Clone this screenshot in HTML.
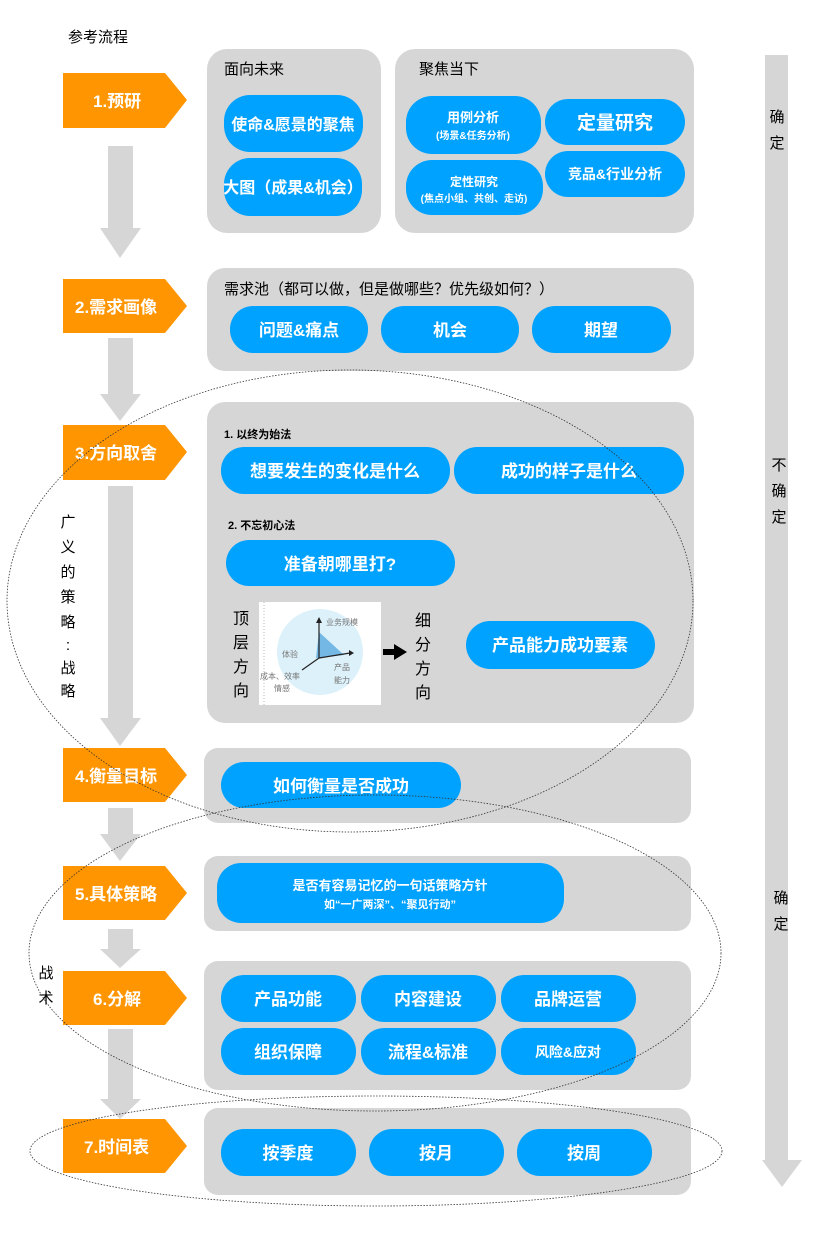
<!DOCTYPE html>
<html><head><meta charset="utf-8"><style>
body{margin:0;background:#fff}
svg text{font-family:"Liberation Sans","Noto Sans CJK SC",sans-serif}
.w{fill:#fff;text-anchor:middle;font-weight:bold}
.b{fill:#000}
.p{fill:#00A2FF}
.g{fill:#D6D6D6}
.o{fill:#FF9500}
</style></head><body>
<svg width="832" height="1236" viewBox="0 0 832 1236" xmlns="http://www.w3.org/2000/svg">
<text x="68" y="42" font-size="15" class="b">参考流程</text>
<!-- right arrow -->
<rect x="765" y="55" width="23" height="1107" class="g"/>
<polygon points="762,1160 802,1160 782,1187" class="g"/>
<g font-size="15" class="b" text-anchor="middle">
<text x="777" y="122">确</text><text x="777" y="148">定</text>
<text x="779" y="470">不</text><text x="779" y="496">确</text><text x="779" y="522">定</text>
<text x="781" y="903">确</text><text x="781" y="929">定</text>
</g>
<!-- down arrows -->
<g class="g">
<rect x="108" y="146" width="25" height="84"/><polygon points="100,228 141,228 120,258"/>
<rect x="108" y="338" width="25" height="58"/><polygon points="100,394 141,394 120,421"/>
<rect x="108" y="486" width="25" height="234"/><polygon points="100,718 141,718 120,746"/>
<rect x="108" y="808" width="25" height="28"/><polygon points="100,834 141,834 120,861"/>
<rect x="108" y="929" width="25" height="22"/><polygon points="100,949 141,949 120,968"/>
<rect x="108" y="1029" width="25" height="72"/><polygon points="100,1099 141,1099 120,1119"/>
</g>
<!-- orange steps -->
<g class="o">
<polygon points="63,73 165,73 187,100 165,128 63,128"/>
<polygon points="63,279 165,279 187,306 165,333 63,333"/>
<polygon points="63,425 165,425 187,452 165,480 63,480"/>
<polygon points="63,748 165,748 187,775 165,802 63,802"/>
<polygon points="63,866 165,866 187,893 165,920 63,920"/>
<polygon points="63,971 165,971 187,998 165,1025 63,1025"/>
<polygon points="63,1119 165,1119 187,1146 165,1173 63,1173"/>
</g>
<g class="w" font-size="17" text-anchor="start" style="text-anchor:start">
<text x="93" y="107">1.预研</text>
<text x="75" y="313">2.需求画像</text>
<text x="75" y="459">3.方向取舍</text>
<text x="75" y="782">4.衡量目标</text>
<text x="75" y="900">5.具体策略</text>
<text x="93" y="1005">6.分解</text>
<text x="84" y="1153">7.时间表</text>
</g>
<!-- boxes -->
<g class="g">
<rect x="207" y="49" width="174" height="184" rx="20"/>
<rect x="395" y="49" width="299" height="184" rx="20"/>
<rect x="207" y="268" width="487" height="103" rx="18"/>
<rect x="207" y="402" width="487" height="321" rx="18"/>
<rect x="204" y="748" width="487" height="75" rx="14"/>
<rect x="204" y="856" width="487" height="75" rx="14"/>
<rect x="204" y="961" width="487" height="129" rx="14"/>
<rect x="204" y="1108" width="487" height="87" rx="14"/>
</g>
<g class="b" font-size="15">
<text x="224" y="74">面向未来</text>
<text x="419" y="74">聚焦当下</text>
<text x="224" y="294">需求池（都可以做，但是做哪些？优先级如何？）</text>
<text x="224" y="438" font-size="11" font-weight="bold">1. 以终为始法</text>
<text x="228" y="529" font-size="11" font-weight="bold">2. 不忘初心法</text>
</g>
<!-- pills -->
<g class="p">
<rect x="224" y="95" width="139" height="57" rx="26"/>
<rect x="224" y="158" width="138" height="58" rx="26"/>
<rect x="406" y="96" width="135" height="58" rx="26"/>
<rect x="545" y="99" width="140" height="46" rx="23"/>
<rect x="406" y="160" width="137" height="55" rx="26"/>
<rect x="545" y="151" width="140" height="46" rx="23"/>
<rect x="230" y="306" width="138" height="47" rx="23"/>
<rect x="381" y="306" width="138" height="47" rx="23"/>
<rect x="532" y="306" width="139" height="47" rx="23"/>
<rect x="221" y="447" width="229" height="47" rx="23"/>
<rect x="454" y="447" width="230" height="47" rx="23"/>
<rect x="226" y="540" width="229" height="46" rx="23"/>
<rect x="466" y="621" width="189" height="48" rx="24"/>
<rect x="221" y="762" width="240" height="46" rx="23"/>
<rect x="217" y="863" width="347" height="60" rx="24"/>
<rect x="221" y="975" width="135" height="47" rx="23"/>
<rect x="361" y="975" width="135" height="47" rx="23"/>
<rect x="501" y="975" width="135" height="47" rx="23"/>
<rect x="221" y="1028" width="135" height="47" rx="23"/>
<rect x="361" y="1028" width="135" height="47" rx="23"/>
<rect x="501" y="1028" width="135" height="47" rx="23"/>
<rect x="221" y="1129" width="135" height="47" rx="23"/>
<rect x="369" y="1129" width="135" height="47" rx="23"/>
<rect x="517" y="1129" width="135" height="47" rx="23"/>
</g>
<g class="w" font-size="16">
<text x="293" y="130">使命&amp;愿景的聚焦</text>
<text x="293" y="193">大图（成果&amp;机会）</text>
<text x="473" y="122" font-size="13">用例分析</text>
<text x="473" y="139" font-size="10">(场景&amp;任务分析)</text>
<text x="615" y="129" font-size="19">定量研究</text>
<text x="474" y="186" font-size="12">定性研究</text>
<text x="474" y="202" font-size="10">(焦点小组、共创、走访)</text>
<text x="615" y="179" font-size="14">竞品&amp;行业分析</text>
<text x="299" y="336" font-size="17">问题&amp;痛点</text>
<text x="450" y="336" font-size="17">机会</text>
<text x="601" y="336" font-size="17">期望</text>
<text x="335" y="477" font-size="17">想要发生的变化是什么</text>
<text x="569" y="477" font-size="17">成功的样子是什么</text>
<text x="340" y="570" font-size="17">准备朝哪里打?</text>
<text x="560" y="651" font-size="17">产品能力成功要素</text>
<text x="341" y="792" font-size="17">如何衡量是否成功</text>
<text x="390" y="890" font-size="13">是否有容易记忆的一句话策略方针</text>
<text x="390" y="908" font-size="11">如“一广两深”、“聚见行动”</text>
<text x="288" y="1005" font-size="17">产品功能</text>
<text x="428" y="1005" font-size="17">内容建设</text>
<text x="568" y="1005" font-size="17">品牌运营</text>
<text x="288" y="1058" font-size="17">组织保障</text>
<text x="428" y="1058" font-size="17">流程&amp;标准</text>
<text x="568" y="1057" font-size="14">风险&amp;应对</text>
<text x="288" y="1159" font-size="17">按季度</text>
<text x="436" y="1159" font-size="17">按月</text>
<text x="584" y="1159" font-size="17">按周</text>
</g>
<!-- radar image -->
<rect x="259" y="602" width="122" height="103" fill="#fff"/>
<line x1="264" y1="602" x2="264" y2="705" stroke="#bbb" stroke-dasharray="1,2"/>
<circle cx="320" cy="652" r="43" fill="#DDF1FA"/>
<polygon points="319,632 344,655 316,658" fill="#5AAAE0" opacity="0.8"/>
<g stroke="#222" stroke-width="1.2">
<line x1="319" y1="658" x2="319" y2="622"/><line x1="319" y1="658" x2="350" y2="653"/><line x1="319" y1="658" x2="302" y2="670"/>
</g>
<polygon points="316,623 322,623 319,617" fill="#222"/>
<polygon points="349,650 354,653 349,656" fill="#222"/>
<g font-size="8" fill="#777">
<text x="326" y="625">业务规模</text><text x="282" y="657">体验</text>
<text x="334" y="670">产品</text><text x="334" y="683">能力</text>
<text x="260" y="679">成本、效率</text><text x="274" y="691">情感</text>
</g>
<polygon points="383,649 394,649 394,644 407,652 394,660 394,655 383,655" fill="#000"/>
<g class="b" font-size="16" text-anchor="middle">
<text x="241" y="624">顶</text><text x="241" y="648">层</text><text x="241" y="672">方</text><text x="241" y="696">向</text>
<text x="423" y="626">细</text><text x="423" y="650">分</text><text x="423" y="674">方</text><text x="423" y="698">向</text>
<g font-size="15">
<text x="68" y="527">广</text><text x="68" y="552">义</text><text x="68" y="577">的</text><text x="68" y="602">策</text><text x="68" y="627">略</text><text x="68" y="650">:</text><text x="68" y="673">战</text><text x="68" y="696">略</text>
</g>
<text x="46" y="978" font-size="15">战</text><text x="46" y="1003" font-size="15">术</text>
</g>
<!-- dotted ellipses -->
<g fill="none" stroke="#333" stroke-width="0.8" stroke-dasharray="1.5,1.5">
<ellipse cx="350" cy="601" rx="343" ry="231"/>
<ellipse cx="375" cy="953" rx="346" ry="158"/>
<ellipse cx="376" cy="1151" rx="346" ry="55"/>
</g>
</svg>
</body></html>
